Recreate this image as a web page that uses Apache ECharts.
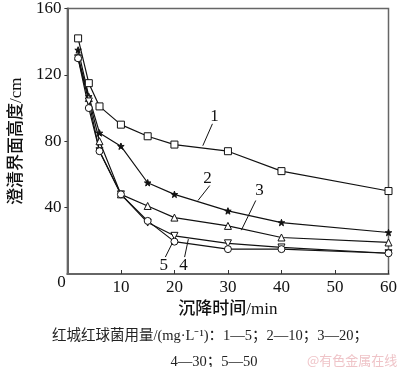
<!DOCTYPE html>
<html><head><meta charset="utf-8">
<script src="https://cdn.jsdelivr.net/npm/echarts@6/dist/echarts.min.js"></script>
<style>html,body{margin:0;padding:0;background:#fff}#c{width:400px;height:367px}</style>
</head><body><div id="c"></div>
<script>
var times = [2, 4, 6, 10, 15, 20, 30, 40, 60];
var s1 = [142, 115, 101, 90, 83, 78, 74, 62, 50];
var s2 = [135, 107, 85, 77, 55, 48, 38, 31, 25];
var s3 = [131, 106, 80, 48, 41, 34, 29, 22, 19];
var s4 = [130, 104, 74, 48, 31, 23, 18.5, 16, 12.5];
var s5 = [130, 100, 74, 48, 32, 19.5, 15, 15, 12.5];
var yTicks = [0, 40, 80, 120, 160];
var xTicks = [0, 10, 20, 30, 40, 50, 60];
var seriesNames = ['1', '2', '3', '4', '5'];
// annotation labels: [text, labelX, labelY, leaderFromX, leaderFromY, leaderToX, leaderToY] in data units
var notes = [
  ['1', 27.5, 95, 27.1, 90.5, 25.3, 77.3],
  ['2', 26.2, 57.5, 26.6, 53.3, 24.4, 44.3],
  ['3', 35.9, 50.3, 35.2, 44.3, 32.5, 26.4],
  ['5', 18.0, 5.4, 18.3, 10.2, 19.6, 18.6],
  ['4', 21.7, 5.4, 21.9, 10.2, 22.6, 21.0]
];

var serif = "'Liberation Serif','Noto Sans CJK SC',serif";
var star = 'path://M0,-10 L2.35,-3.24 L9.51,-3.09 L3.8,1.24 L5.88,8.09 L0,4 L-5.88,8.09 L-3.8,1.24 L-9.51,-3.09 L-2.35,-3.24Z';
function pairs(v){ return times.map(function(t,i){return [t, v[i]];}); }
function mk(name, vals, sym, size, fill, rot){
  return {name:name, type:'line', data:pairs(vals), symbol:sym, symbolSize:size, symbolRotate:rot||0,
    showAllSymbol:true, lineStyle:{color:'#111', width:1.2},
    itemStyle:{color:fill, borderColor:'#111', borderWidth:1}, z:3, animation:false};
}
var chart = echarts.init(document.getElementById('c'));
chart.setOption({
  animation:false,
  grid:{left:57, right:9, top:7, bottom:93, show:true, borderColor:'#666', borderWidth:1.5, backgroundColor:'transparent'},
  xAxis:{type:'value', min:0, max:60, interval:10,
    name:'沉降时间/min', nameLocation:'middle', nameGap:24,
    nameTextStyle:{fontFamily:serif, fontSize:17, fontWeight:500, color:'#111'},
    axisLine:{lineStyle:{color:'#666', width:2}},
    axisTick:{inside:true, length:4, lineStyle:{color:'#333'}},
    axisLabel:{fontFamily:serif, fontSize:17, color:'#111', margin:5, showMinLabel:false,
      formatter:function(v){return xTicks.indexOf(v)>=0? String(v):'';}},
    splitLine:{show:false}},
  yAxis:{type:'value', min:0, max:160, interval:40,
    name:'澄清界面高度/cm', nameLocation:'middle', nameGap:38,
    nameTextStyle:{fontFamily:serif, fontSize:17, fontWeight:500, color:'#111'},
    axisLine:{show:true, lineStyle:{color:'#666', width:2}},
    axisTick:{show:true, length:3, lineStyle:{color:'#333'}},
    axisLabel:{fontFamily:serif, fontSize:17, color:'#111', margin:6, showMinLabel:false,
      formatter:function(v){return yTicks.indexOf(v)>=0? String(v):'';}},
    splitLine:{show:false}},
  title:[
    {text:'红城红球菌用量/(mg·L⁻¹)：1—5；2—10；3—20；', left:205, top:324, textAlign:'center',
      textStyle:{fontFamily:serif, fontSize:14.5, fontWeight:'normal', color:'#222'}},
    {text:'4—30；5—50', left:209, top:350, textAlign:'center',
      textStyle:{fontFamily:serif, fontSize:14.5, fontWeight:'normal', color:'#222'}},
    {text:'@有色金属在线', left:302, top:349,
      textStyle:{fontFamily:"'Noto Sans CJK SC',sans-serif", fontSize:13, fontWeight:'normal', color:'#efc4c8'}}
  ],
  series:[
    mk(seriesNames[0], s1, 'rect', 7, '#fff'),
    mk(seriesNames[1], s2, star, 6.5, '#111'),
    mk(seriesNames[2], s3, 'triangle', 7, '#fff'),
    mk(seriesNames[3], s4, 'triangle', 7, '#fff', 180),
    mk(seriesNames[4], s5, 'circle', 7, '#fff')
  ]
});
var g = [];
notes.forEach(function(n){
  var p = chart.convertToPixel({gridIndex:0}, [n[1], n[2]]);
  var a = chart.convertToPixel({gridIndex:0}, [n[3], n[4]]);
  var b = chart.convertToPixel({gridIndex:0}, [n[5], n[6]]);
  g.push({type:'text', x:p[0], y:p[1], style:{text:n[0], font:'17px '+serif, fill:'#111', align:'center', verticalAlign:'middle'}, z:10});
  g.push({type:'line', shape:{x1:a[0], y1:a[1], x2:b[0], y2:b[1]}, style:{stroke:'#111', lineWidth:1}, z:10});
});
var o = chart.convertToPixel({gridIndex:0}, [0, 0]);
g.push({type:'text', x:o[0]-6, y:o[1]+9, style:{text:'0', font:'17px '+serif, fill:'#111', align:'center', verticalAlign:'middle'}, z:10});
chart.setOption({graphic:g});
</script></body></html>
